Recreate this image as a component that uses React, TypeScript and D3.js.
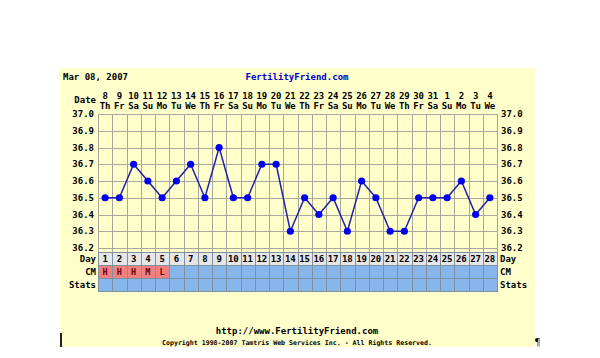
import * as d3 from "d3";
import { useEffect, useRef } from "react";

const days = d3.range(1, 29);
const dateNums = [8, 9, 10, 11, 12, 13, 14, 15, 16, 17, 18, 19, 20, 21, 22, 23, 24, 25, 26, 27, 28, 29, 30, 31, 1, 2, 3, 4];
const weekdays = ["Th", "Fr", "Sa", "Su", "Mo", "Tu", "We", "Th", "Fr", "Sa", "Su", "Mo", "Tu", "We", "Th", "Fr", "Sa", "Su", "Mo", "Tu", "We", "Th", "Fr", "Sa", "Su", "Mo", "Tu", "We"];
const temps = [36.5, 36.5, 36.7, 36.6, 36.5, 36.6, 36.7, 36.5, 36.8, 36.5, 36.5, 36.7, 36.7, 36.3, 36.5, 36.4, 36.5, 36.3, 36.6, 36.5, 36.3, 36.3, 36.5, 36.5, 36.5, 36.6, 36.4, 36.5];
const cm = ["H", "H", "H", "M", "L"];
const yTicks = [37.0, 36.9, 36.8, 36.7, 36.6, 36.5, 36.4, 36.3, 36.2];

const FONT = "'DejaVu Sans Mono', monospace";

export default function App() {
  const svgRef = useRef<SVGSVGElement>(null);

  useEffect(() => {
    if (!svgRef.current) return;
    const svg = d3.select(svgRef.current);
    svg.selectAll("*").remove();

    const left = 98;
    const right = 497;
    const top = 114;
    const bottom = 248;

    const x = d3.scaleBand<number>().domain(days).range([left, right]);
    const y = d3.scaleLinear().domain([36.2, 37.0]).range([bottom, top]);
    const bw = x.bandwidth();

    // background
    svg.append("rect").attr("x", 59).attr("y", 68).attr("width", 476).attr("height", 279).attr("fill", "#ffffcc");

    const txt = (tx: number, ty: number, s: string, anchor = "start", size = 9, color = "#000") =>
      svg
        .append("text")
        .attr("x", tx)
        .attr("y", ty)
        .attr("text-anchor", anchor)
        .style("font-family", FONT)
        .style("font-weight", "bold")
        .style("font-size", `${size}px`)
        .style("fill", color)
        .text(s);

    // title
    txt(63, 80, "Mar 08, 2007");
    txt(297, 80, "FertilityFriend.com", "middle", 9, "#0000cc");

    // header
    txt(96, 103, "Date", "end");
    days.forEach((d, i) => {
      const cx = x(d)! + bw / 2;
      txt(cx, 99, String(dateNums[i]), "middle");
      txt(cx, 109, weekdays[i], "middle");
    });

    // grid
    const grid = svg.append("g").attr("stroke", "#a8a8a0").attr("stroke-width", 1);
    yTicks.forEach((t) => {
      const yy = Math.round(y(t)) + 0.5;
      grid.append("line").attr("x1", left).attr("x2", right).attr("y1", yy).attr("y2", yy);
    });
    [...days.map((d) => x(d)!), right].forEach((vx) => {
      const xx = Math.round(vx) + 0.5;
      grid.append("line").attr("x1", xx).attr("x2", xx).attr("y1", top).attr("y2", 252);
    });

    // axes labels
    yTicks.forEach((t) => {
      const yy = y(t) + 3;
      txt(94, yy, t.toFixed(1), "end");
      txt(501, yy, t.toFixed(1), "start");
    });

    // rows
    const rows = [
      { label: "Day", y0: 252, fill: "#e6e6e6" },
      { label: "CM", y0: 265, fill: "#86b6ec" },
      { label: "Stats", y0: 278, fill: "#86b6ec" },
    ];
    const rh = 13;
    rows.forEach((r) => {
      days.forEach((d, i) => {
        let fill = r.fill;
        if (r.label === "CM" && i < cm.length) fill = "#ee8080";
        svg
          .append("rect")
          .attr("x", Math.round(x(d)!) + 0.5)
          .attr("y", r.y0 + 0.5)
          .attr("width", Math.round(x(d)! + bw) - Math.round(x(d)!))
          .attr("height", rh)
          .attr("fill", fill)
          .attr("stroke", "#8090a0")
          .attr("stroke-width", 1);
      });
      txt(96, r.y0 + rh / 2 + 3.5, r.label, "end");
      txt(500, r.y0 + rh / 2 + 3.5, r.label, "start");
    });
    days.forEach((d) => txt(x(d)! + bw / 2, 252 + rh / 2 + 3.5, String(d), "middle"));
    cm.forEach((c, i) => txt(x(days[i])! + bw / 2, 265 + rh / 2 + 3.5, c, "middle", 8.5, "#700000"));

    // temperature line
    const line = d3
      .line<number>()
      .x((_, i) => x(days[i])! + bw / 2)
      .y((t) => y(t));
    svg
      .append("path")
      .datum(temps)
      .attr("d", line)
      .attr("fill", "none")
      .attr("stroke", "#2222aa")
      .attr("stroke-width", 1.5);
    svg
      .append("g")
      .selectAll("circle")
      .data(temps)
      .enter()
      .append("circle")
      .attr("cx", (_, i) => x(days[i])! + bw / 2)
      .attr("cy", (t) => y(t))
      .attr("r", 3.6)
      .attr("fill", "#0000ee");

    // footer
    txt(297, 334, "http://www.FertilityFriend.com", "middle");
    txt(297, 345, "Copyright 1998-2007 Tamtris Web Services Inc. - All Rights Reserved.", "middle", 6.6);
    svg.append("rect").attr("x", 60).attr("y", 333).attr("width", 2).attr("height", 14).attr("fill", "#222");
    svg
      .append("text")
      .attr("x", 535)
      .attr("y", 345)
      .style("font-family", "'Liberation Serif', serif")
      .style("font-size", "11px")
      .text("\u00b6");
  }, []);

  return (
    <div style={{ position: "absolute", left: 0, top: 0 }}>
      <svg ref={svgRef} width={600} height={358} style={{ display: "block", background: "#fff" }} />
    </div>
  );
}
